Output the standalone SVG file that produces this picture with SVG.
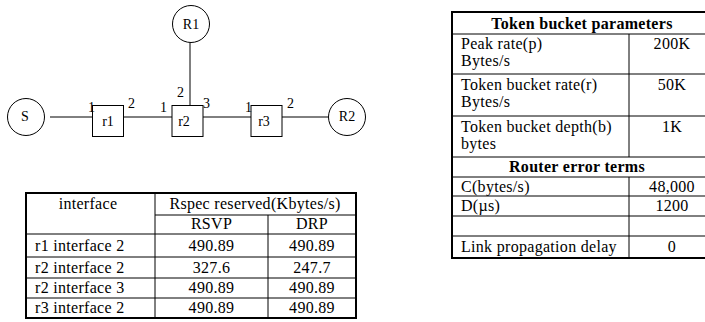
<svg xmlns="http://www.w3.org/2000/svg" width="705" height="322" viewBox="0 0 705 322">
<style>
  .t { font-family: "Liberation Serif", "Times New Roman", serif; fill: #000; }
  .g { font-size: 14px; }
  .tb { font-size: 16px; letter-spacing: 0.3px; }
  .b { font-weight: bold; }
  .m { text-anchor: middle; }
  .shape { fill: #fff; stroke: #000; stroke-width: 1; }
  .ln { stroke: #000; stroke-width: 1; fill: none; }
  .thk { stroke: #000; stroke-width: 2; fill: none; }
</style>
<rect width="705" height="322" fill="#fff"/>

<g id="connectors">
  <line class="ln" x1="50" y1="117" x2="92.5" y2="117"/>
  <line class="ln" x1="123.5" y1="117" x2="172" y2="117"/>
  <line class="ln" x1="203" y1="117" x2="251" y2="117"/>
  <line class="ln" x1="282" y1="117" x2="328.5" y2="117"/>
  <line class="ln" x1="190" y1="42.5" x2="190" y2="105.5"/>
</g>

<g id="S"><circle class="shape" cx="26" cy="117" r="18.5"/><text class="t g m" x="25" y="121">S</text></g>
<g id="R1"><circle class="shape" cx="191" cy="24" r="18.5"/><text class="t g m" x="191" y="29">R1</text></g>
<g id="R2"><circle class="shape" cx="347" cy="117" r="18.5"/><text class="t g m" x="347" y="121">R2</text></g>
<g id="r1"><rect class="shape" x="92.5" y="105.5" width="31" height="31"/><text class="t g m" x="108" y="126">r1</text></g>
<g id="r2"><rect class="shape" x="172" y="105.5" width="31" height="31"/><text class="t g m" x="184" y="126">r2</text></g>
<g id="r3"><rect class="shape" x="251" y="105.5" width="31" height="31"/><text class="t g m" x="264" y="126">r3</text></g>

<g id="port-labels" class="t g">
  <text x="88" y="112">1</text>
  <text x="128" y="108">2</text>
  <text x="160" y="112">1</text>
  <text x="177" y="97">2</text>
  <text x="203" y="108">3</text>
  <text x="245" y="112">1</text>
  <text x="287" y="108">2</text>
</g>

<g id="reservation-table">
  <line class="thk" x1="26" y1="193" x2="356" y2="193"/>
  <line class="ln" x1="155" y1="215" x2="356" y2="215"/>
  <line class="ln" x1="26" y1="234" x2="356" y2="234"/>
  <line class="ln" x1="26" y1="257" x2="356" y2="257"/>
  <line class="ln" x1="26" y1="278" x2="356" y2="278"/>
  <line class="ln" x1="26" y1="298" x2="356" y2="298"/>
  <line class="thk" x1="26" y1="318" x2="356" y2="318"/>
  <line class="thk" x1="26" y1="192" x2="26" y2="319"/>
  <line class="thk" x1="356" y1="192" x2="356" y2="319"/>
  <line class="ln" x1="155" y1="193" x2="155" y2="318"/>
  <line class="ln" x1="268" y1="215" x2="268" y2="318"/>
  <g class="t tb">
    <text class="m" x="88" y="209">interface</text>
    <text class="m" x="255" y="209">Rspec reserved(Kbytes/s)</text>
    <text class="m" x="211.5" y="229">RSVP</text>
    <text class="m" x="312" y="229">DRP</text>
    <text x="35" y="251">r1 interface 2</text>
    <text class="m" x="211.5" y="251">490.89</text>
    <text class="m" x="312" y="251">490.89</text>
    <text x="35" y="273">r2 interface 2</text>
    <text class="m" x="211.5" y="273">327.6</text>
    <text class="m" x="312" y="273">247.7</text>
    <text x="35" y="293">r2 interface 3</text>
    <text class="m" x="211.5" y="293">490.89</text>
    <text class="m" x="312" y="293">490.89</text>
    <text x="35" y="313">r3 interface 2</text>
    <text class="m" x="211.5" y="313">490.89</text>
    <text class="m" x="312" y="313">490.89</text>
  </g>
</g>

<g id="parameter-table">
  <line class="thk" x1="452" y1="12" x2="705" y2="12"/>
  <line class="ln" x1="452" y1="34" x2="705" y2="34"/>
  <line class="ln" x1="452" y1="74" x2="705" y2="74"/>
  <line class="ln" x1="452" y1="116" x2="705" y2="116"/>
  <line class="ln" x1="452" y1="157" x2="705" y2="157"/>
  <line class="ln" x1="452" y1="177" x2="705" y2="177"/>
  <line class="ln" x1="452" y1="196" x2="705" y2="196"/>
  <line class="ln" x1="452" y1="216" x2="705" y2="216"/>
  <line class="ln" x1="452" y1="236" x2="705" y2="236"/>
  <line class="thk" x1="452" y1="258" x2="705" y2="258"/>
  <line class="thk" x1="452" y1="11" x2="452" y2="259"/>
  <line class="ln" x1="629" y1="34" x2="629" y2="157"/>
  <line class="ln" x1="629" y1="177" x2="629" y2="258"/>
  <g class="t tb">
    <text class="m b" x="582" y="29">Token bucket parameters</text>
    <text x="461" y="49">Peak rate(p)</text>
    <text x="461" y="66">Bytes/s</text>
    <text class="m" x="672" y="49">200K</text>
    <text x="461" y="90">Token bucket rate(r)</text>
    <text x="461" y="107">Bytes/s</text>
    <text class="m" x="672" y="90">50K</text>
    <text x="461" y="132">Token bucket depth(b)</text>
    <text x="461" y="149">bytes</text>
    <text class="m" x="672" y="132">1K</text>
    <text class="m b" x="577" y="172">Router error terms</text>
    <text x="461" y="192">C(bytes/s)</text>
    <text class="m" x="672" y="192">48,000</text>
    <text x="461" y="211">D(µs)</text>
    <text class="m" x="672" y="211">1200</text>
    <text x="461" y="252">Link propagation delay</text>
    <text class="m" x="672" y="252">0</text>
  </g>
</g>
</svg>
